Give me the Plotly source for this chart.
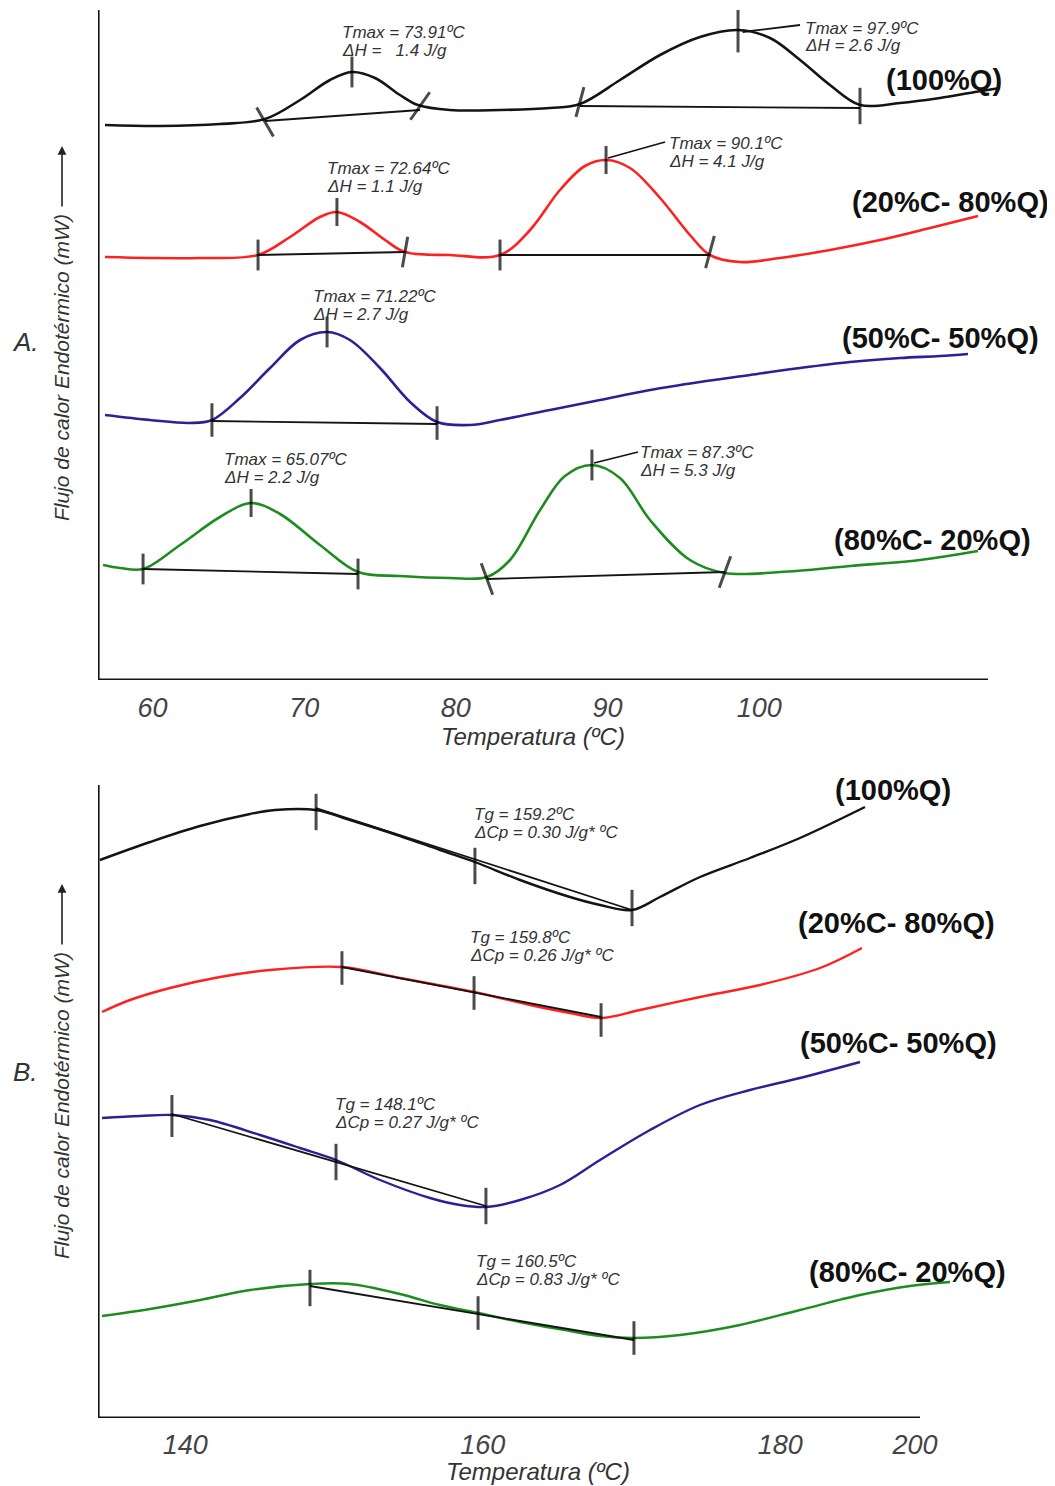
import plotly.graph_objects as go

W, H = 1055, 1486
OFF = 8  # page body margin
FONT = "Liberation Sans, Arial, sans-serif"
BLACK = "#141414"
RED = "#ff2020"
BLUE = "#2e1f94"
GREEN = "#1f8c1f"

# ---------------- Panel A (T in ºC, heat flow in arbitrary units) ----------------
a_q100_T = [56.87, 60.50, 64.45, 67.42, 69.73, 71.70, 73.15, 74.67, 76.32, 77.50, 79.61, 82.91, 86.21,
            88.18, 90.82, 93.46, 96.09, 98.60, 100.71, 102.69, 104.66, 106.64, 109.28, 111.91, 114.22, 115.87]
a_q100_hf = [555, 554, 556, 561, 580, 600, 608, 602, 585, 575, 570, 570, 572,
             576, 600, 625, 643, 650, 642, 620, 595, 575, 577, 582, 588, 592]

a_c20_T = [56.87, 59.84, 63.13, 66.96, 69.07, 71.04, 72.16, 73.68, 75.33, 76.65, 79.61, 82.91, 84.89,
           86.86, 88.51, 89.90, 91.48, 93.46, 95.43, 96.75, 98.73, 101.37, 104.66, 107.96, 111.26, 114.42]
a_c20_hf = [423, 422, 422, 425, 443, 463, 468, 458, 440, 428, 425, 425, 450,
            490, 514, 520, 512, 482, 445, 425, 418, 422, 430, 440, 452, 464]

a_c50_T = [56.87, 59.84, 62.47, 63.92, 65.77, 67.75, 69.73, 71.51, 73.02, 75.00, 76.98, 78.76,
           80.93, 82.91, 86.21, 89.50, 92.80, 96.09, 99.39, 102.69, 105.98, 109.28, 111.91, 113.76]
a_c50_hf = [265, 260, 257, 260, 282, 312, 340, 348, 340, 312, 278, 258,
            255, 260, 270, 280, 290, 298, 305, 312, 318, 322, 324, 326]

a_c80_T = [56.74, 57.86, 59.38, 61.82, 64.45, 66.50, 68.41, 71.04, 73.55, 76.32, 79.61, 82.05,
           83.57, 85.55, 87.19, 88.97, 90.82, 92.80, 95.43, 97.74, 101.37, 105.98, 110.60, 114.42]
a_c80_hf = [115, 112, 111, 135, 163, 177, 166, 135, 108, 104, 102, 103,
            120, 170, 204, 215, 202, 160, 120, 107, 108, 114, 120, 129]

# integration baselines (start/end)
a_base_T = [[67.42, 77.64], [88.18, 106.64], [66.96, 76.65], [82.91, 96.75],
            [63.92, 78.76], [59.38, 73.55], [82.05, 97.74]]
a_base_hf = [[559, 570], [574, 572], [425, 428], [425, 425],
             [259, 256], [111, 106], [101, 108]]

# marks on the curves
a_mark_T = [67.42, 73.15, 77.64, 88.18, 98.60, 106.64,
            66.96, 72.16, 76.65, 82.91, 89.90, 96.75,
            63.92, 71.51, 78.76,
            59.38, 66.50, 73.55, 82.05, 88.97, 97.74]
a_mark_hf = [558, 608, 574, 578, 650, 574,
             425, 468, 428, 425, 520, 428,
             260, 348, 257,
             111, 177, 106, 101, 215, 108]
a_mark_angle = [-30, 0, 35, 15, 0, 0,
                0, 0, 10, 0, 0, 15,
                0, 0, 0,
                0, 0, 0, -20, 0, 20]
a_mark_size = [24, 22, 24, 22, 32, 26,
               22, 20, 22, 22, 20, 24,
               24, 22, 24,
               22, 20, 22, 24, 22, 24]

# leader lines from peak to label
a_lead_T = [[98.9, 102.69], [90.03, 93.79], [89.11, 92.01]]
a_lead_hf = [[648, 655], [522, 538], [217, 228]]

a_ticks = [60, 70, 80, 90, 100]

# ---------------- Panel B ----------------
b_q100_T = [134.27, 137.64, 141.00, 144.36, 146.04, 148.80, 151.08, 154.44, 157.13, 159.48,
            162.51, 165.87, 167.89, 170.04, 171.92, 174.61, 177.97, 181.33, 185.70]
b_q100_hf = [558, 576, 592, 604, 608, 608, 598, 582, 568, 556,
             538, 521, 513, 508, 521, 541, 560, 580, 611]

b_c20_T = [134.41, 136.29, 138.98, 142.34, 145.70, 150.54, 154.44, 159.42,
           163.18, 165.87, 167.96, 170.58, 174.61, 178.64, 182.68, 185.50]
b_c20_hf = [406, 418, 430, 441, 448, 451, 440, 426,
            413, 405, 400, 408, 421, 433, 450, 470]

b_c50_T = [134.41, 136.96, 139.11, 141.67, 145.03, 147.72, 150.14, 153.10, 156.46, 158.48,
           160.22, 162.51, 165.20, 167.89, 171.25, 174.61, 177.97, 181.33, 185.37]
b_c50_hf = [300, 302, 303, 298, 283, 270, 258, 238, 220, 213,
            211, 218, 233, 258, 288, 313, 328, 340, 356]

b_c80_T = [134.41, 137.64, 141.00, 144.36, 148.39, 151.08, 154.44, 157.13, 159.69, 162.51,
           165.87, 167.89, 170.17, 173.27, 177.30, 181.33, 185.37, 188.73, 191.42]
b_c80_hf = [102, 109, 118, 128, 134, 134, 124, 113, 105, 96,
            87, 82, 80, 83, 93, 108, 123, 132, 136]

b_tan_T = [[148.80, 170.04], [150.54, 167.96], [139.11, 160.22], [148.39, 170.17]]
b_tan_hf = [[610, 508], [451, 401], [304, 212], [132, 78]]

b_mark_T = [148.80, 159.48, 170.04, 150.54, 159.42, 167.96,
            139.11, 150.14, 160.22, 148.39, 159.69, 170.17]
b_mark_hf = [606, 552, 510, 450, 425, 398, 302, 256, 212, 130, 105, 80]
b_mark_size = [26, 26, 26, 24, 24, 24, 30, 26, 26, 26, 24, 24]

b_tickvals = [140, 160, 180, 189.06]
b_ticktext = ["140", "160", "180", "200"]

series_labels = ["(100%Q)", "(20%C- 80%Q)", "(50%C- 50%Q)", "(80%C- 20%Q)"]
a_notes = [("Tmax = 73.91ºC", "ΔH =\u00a0\u00a0 1.4 J/g"), ("Tmax = 97.9ºC", "ΔH = 2.6 J/g"),
           ("Tmax = 72.64ºC", "ΔH = 1.1 J/g"), ("Tmax = 90.1ºC", "ΔH = 4.1 J/g"),
           ("Tmax = 71.22ºC", "ΔH = 2.7 J/g"), ("Tmax = 65.07ºC", "ΔH = 2.2 J/g"),
           ("Tmax = 87.3ºC", "ΔH = 5.3 J/g")]
b_notes = [("Tg = 159.2ºC", "ΔCp = 0.30 J/g* ºC"), ("Tg = 159.8ºC", "ΔCp = 0.26 J/g* ºC"),
           ("Tg = 148.1ºC", "ΔCp = 0.27 J/g* ºC"), ("Tg = 160.5ºC", "ΔCp = 0.83 J/g* ºC")]

# ---------------- figure ----------------
def px(x):
    return (x - OFF) / W

def py(y):
    return 1 - (y - OFF) / H

fig = go.Figure()

colors = [BLACK, RED, BLUE, GREEN]
for (T, hf), c in zip([(a_q100_T, a_q100_hf), (a_c20_T, a_c20_hf), (a_c50_T, a_c50_hf), (a_c80_T, a_c80_hf)], colors):
    fig.add_trace(go.Scatter(x=T, y=hf, mode="lines", line=dict(color=c, width=2.6, shape="spline", smoothing=1.0),
                             xaxis="x", yaxis="y", hoverinfo="skip", showlegend=False))
for (T, hf), c in zip([(b_q100_T, b_q100_hf), (b_c20_T, b_c20_hf), (b_c50_T, b_c50_hf), (b_c80_T, b_c80_hf)], colors):
    fig.add_trace(go.Scatter(x=T, y=hf, mode="lines", line=dict(color=c, width=2.4, shape="spline", smoothing=1.0),
                             xaxis="x2", yaxis="y2", hoverinfo="skip", showlegend=False))

for T, hf in zip(a_base_T + a_lead_T, a_base_hf + a_lead_hf):
    fig.add_trace(go.Scatter(x=T, y=hf, mode="lines", line=dict(color=BLACK, width=1.8),
                             xaxis="x", yaxis="y", hoverinfo="skip", showlegend=False))
for T, hf in zip(b_tan_T, b_tan_hf):
    fig.add_trace(go.Scatter(x=T, y=hf, mode="lines", line=dict(color=BLACK, width=1.8),
                             xaxis="x2", yaxis="y2", hoverinfo="skip", showlegend=False))

fig.add_trace(go.Scatter(x=a_mark_T, y=a_mark_hf, mode="markers",
                         marker=dict(symbol="line-ns", size=a_mark_size, angle=a_mark_angle, color=BLACK,
                                     line=dict(color="#000000", width=3)),
                         xaxis="x", yaxis="y", hoverinfo="skip", showlegend=False))
fig.add_trace(go.Scatter(x=b_mark_T, y=b_mark_hf, mode="markers",
                         marker=dict(symbol="line-ns", size=b_mark_size, color=BLACK,
                                     line=dict(color="#000000", width=3)),
                         xaxis="x2", yaxis="y2", hoverinfo="skip", showlegend=False))

# axis frames
a_x0, a_x1 = 56.41, 115.08
b_x0, b_x1 = 134.14, 189.4
shapes = [
    dict(type="line", xref="x", yref="y", x0=a_x0, x1=a_x1, y0=0, y1=0, line=dict(color=BLACK, width=3.2)),
    dict(type="line", xref="x", yref="y", x0=a_x0, x1=a_x0, y0=0, y1=670, line=dict(color=BLACK, width=3.2)),
    dict(type="line", xref="x2", yref="y2", x0=b_x0, x1=b_x1, y0=0, y1=0, line=dict(color=BLACK, width=3.2)),
    dict(type="line", xref="x2", yref="y2", x0=b_x0, x1=b_x0, y0=0, y1=633, line=dict(color=BLACK, width=3.2)),
]

ann = []
note_font = dict(family=FONT, size=17, color="#333333", style="italic")
a_note_pos = [(340, 32), (803, 28), (325, 169), (667, 144), (311, 296), (222, 459), (638, 452)]
b_note_pos = [(472, 814), (468, 937), (333, 1104), (474, 1261)]
for (l1, l2), (x, y) in zip(a_notes + b_notes, a_note_pos + b_note_pos):
    for t, yy in [(l1, y), (l2, y + 18)]:
        ann.append(dict(text=t, x=px(x), y=py(yy), xref="paper", yref="paper", xanchor="left", yanchor="middle",
                        align="left", showarrow=False, font=note_font))

lab_font = dict(family=FONT, size=29, color="#111111", weight="bold")
for t, (x, y) in zip(series_labels, [(944, 80), (950, 202), (940, 338), (932, 540)]):
    ann.append(dict(text=t, x=px(x), y=py(y), xref="paper", yref="paper", xanchor="center", yanchor="middle",
                    showarrow=False, font=lab_font))
for t, (x, y) in zip(series_labels, [(893, 790), (896, 923), (898, 1043), (907, 1272)]):
    ann.append(dict(text=t, x=px(x), y=py(y), xref="paper", yref="paper", xanchor="center", yanchor="middle",
                    showarrow=False, font=lab_font))

big_it = dict(family=FONT, size=26, color="#333333", style="italic")
ann.append(dict(text="A.", x=px(25), y=py(342), xref="paper", yref="paper", xanchor="center", yanchor="middle",
                showarrow=False, font=big_it))
ann.append(dict(text="B.", x=px(25), y=py(1072), xref="paper", yref="paper", xanchor="center", yanchor="middle",
                showarrow=False, font=big_it))

ytitle_font = dict(family=FONT, size=21, color="#333333", style="italic")
for yc, ytip in [(368, 146), (1106, 884)]:
    ann.append(dict(text="Flujo de calor Endotérmico (mW)", x=px(61), y=py(yc), xref="paper", yref="paper",
                    xanchor="center", yanchor="middle", textangle=-90, showarrow=False, font=ytitle_font))
    ann.append(dict(text="", x=px(62), y=py(ytip), xref="paper", yref="paper", showarrow=True,
                    ax=0, ay=62, arrowhead=2, arrowsize=1.1, arrowwidth=1.6, arrowcolor="#222222"))

xtitle_font = dict(family=FONT, size=24, color="#333333", style="italic")
ann.append(dict(text="Temperatura (ºC)", x=px(533), y=py(737), xref="paper", yref="paper",
                xanchor="center", yanchor="middle", showarrow=False, font=xtitle_font))
ann.append(dict(text="Temperatura (ºC)", x=px(538), y=py(1471), xref="paper", yref="paper",
                xanchor="center", yanchor="middle", showarrow=False, font=xtitle_font))

tickfont = dict(family=FONT, size=27, color="#444444", style="italic")
fig.update_layout(
    width=W, height=H, margin=dict(l=0, r=0, t=0, b=0),
    paper_bgcolor="white", plot_bgcolor="white", showlegend=False,
    xaxis=dict(domain=[px(98), px(1005)], range=[a_x0, a_x0 + (1005 - 98) / 15.17], anchor="y",
               showgrid=False, zeroline=False, showline=False, ticks="", tickvals=a_ticks,
               tickfont=tickfont, ticklabelstandoff=9),
    yaxis=dict(domain=[py(680), py(10)], range=[0, 670], anchor="x", visible=False),
    xaxis2=dict(domain=[px(98), px(960)], range=[b_x0, b_x0 + (960 - 98) / 14.875], anchor="y2",
                showgrid=False, zeroline=False, showline=False, ticks="", tickvals=b_tickvals,
                ticktext=b_ticktext, tickfont=tickfont, ticklabelstandoff=8),
    yaxis2=dict(domain=[py(1418), py(785)], range=[0, 633], anchor="x2", visible=False),
    shapes=shapes, annotations=ann,
)

fig.write_html("out.html")
